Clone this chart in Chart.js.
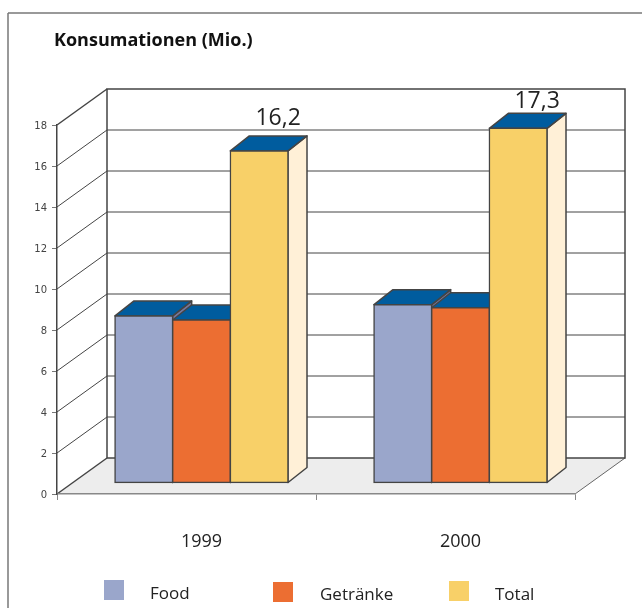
<!DOCTYPE html>
<html>
<head>
<meta charset="utf-8">
<title>Konsumationen</title>
<style>
	html, body { margin: 0; padding: 0; background: #fff; overflow: hidden; }
	canvas { display: block; }
</style>
<script src="https://cdn.jsdelivr.net/npm/chart.js@4/dist/chart.umd.min.js"></script>
</head>
<body>
<canvas id="MyChart" width="642" height="608"></canvas>
<script>
var categories = ["1999", "2000"];
var seriesNames = ["Food", "Getränke", "Total"];
var foodValues = [8.15, 8.7];
var drinkValues = [7.95, 8.55];
var totalValues = [16.2, 17.3];
var valueLabels = ["16,2", "17,3"];
var yMax = 18;
var yStep = 2;

var frontColors = ["#9aa6cb", "#ec6e32", "#f8d068"];
var sideColors = ["#77779c", "#b9532a", "#fff0d7"];
var topColor = "#005c9e";
var lineColor = "#444";
var font = '"Open Sans", "Noto Sans", sans-serif';

// room between front of the floor and back wall, and where the bars stand in it
var wallDx = 50, wallDy = -36;
var barDx = 15, barDy = -11;
var depthDx = 19, depthDy = -15;

function line(ctx, x1, y1, x2, y2, color, width) {
	ctx.beginPath();
	ctx.moveTo(x1, y1);
	ctx.lineTo(x2, y2);
	ctx.strokeStyle = color;
	ctx.lineWidth = width;
	ctx.stroke();
}

function poly(ctx, pts, fill, stroke, width) {
	ctx.beginPath();
	ctx.moveTo(pts[0][0], pts[0][1]);
	for (var i = 1; i < pts.length; i++) ctx.lineTo(pts[i][0], pts[i][1]);
	ctx.closePath();
	ctx.fillStyle = fill;
	ctx.fill();
	if (stroke) {
		ctx.strokeStyle = stroke;
		ctx.lineWidth = width;
		ctx.lineJoin = "round";
		ctx.stroke();
	}
}

var room3d = {
	id: "room3d",
	beforeDraw: function(chart) {
		var ctx = chart.ctx, x = chart.scales.x, y = chart.scales.y;
		var y0 = y.getPixelForValue(0), yTop = y.getPixelForValue(yMax);
		ctx.save();
		// outer frame, runs off the page right and bottom
		line(ctx, 8, 13, 642, 13, "#777", 1.5);
		line(ctx, 8, 13, 8, 608, "#777", 1.5);
		// floor
		poly(ctx, [[x.left, y0], [x.left + wallDx, y0 + wallDy], [x.right + wallDx, y0 + wallDy], [x.right, y0]], "#ededed");
		line(ctx, x.right, y0, x.right + wallDx, y0 + wallDy, "#666", 1);
		// grid on the left and back wall
		y.ticks.forEach(function(t) {
			var py = y.getPixelForValue(t.value);
			line(ctx, x.left, py, x.left + wallDx, py + wallDy, lineColor, t.value == 0 || t.value == yMax ? 1.5 : 1);
			if (t.value != 0 && t.value != yMax) line(ctx, x.left + wallDx, py + wallDy, x.right + wallDx, py + wallDy, lineColor, 1);
		});
		ctx.strokeStyle = lineColor;
		ctx.lineWidth = 1.5;
		ctx.strokeRect(x.left + wallDx, yTop + wallDy, x.width, y0 - yTop);
		ctx.restore();
	},
	// left to right so each bar covers the side of the one before it
	beforeDatasetsDraw: function(chart) {
		var ctx = chart.ctx;
		ctx.save();
		ctx.translate(barDx, barDy);
		chart.getSortedVisibleDatasetMetas().forEach(function(meta) {
			meta.data.forEach(function(bar) {
				var l = bar.x - bar.width / 2, r = bar.x + bar.width / 2;
				poly(ctx, [[r, bar.y], [r + depthDx, bar.y + depthDy], [r + depthDx, bar.base + depthDy], [r, bar.base]], sideColors[meta.index], lineColor, 1.5);
				poly(ctx, [[l, bar.y], [l + depthDx, bar.y + depthDy], [r + depthDx, bar.y + depthDy], [r, bar.y]], topColor, lineColor, 1.5);
			});
			meta.controller.draw();
		});
		ctx.restore();
		return false;
	},
	afterDraw: function(chart) {
		var ctx = chart.ctx;
		ctx.save();
		ctx.textAlign = "left";
		ctx.textBaseline = "alphabetic";
		ctx.fillStyle = "#111";
		ctx.font = "bold 18px " + font;
		ctx.fillText("Konsumationen (Mio.)", 54, 46);

		// value labels over the total bars
		var lift = [26, 20];
		ctx.textAlign = "center";
		ctx.fillStyle = "#222";
		ctx.font = "23px " + font;
		chart.getDatasetMeta(2).data.forEach(function(bar, i) {
			ctx.fillText(valueLabels[i], bar.x + barDx + depthDx, bar.y + barDy - lift[i]);
		});

		// legend
		var legendX = [104, 273, 449], legendY = [580, 582, 581], legendText = [150, 320, 495], legendBase = [599, 600, 600];
		ctx.textAlign = "left";
		ctx.font = "17px " + font;
		chart.data.datasets.forEach(function(ds, i) {
			ctx.fillStyle = ds.backgroundColor;
			ctx.fillRect(legendX[i], legendY[i], 20, 20);
			ctx.fillStyle = "#222";
			ctx.fillText(ds.label, legendText[i], legendBase[i]);
		});
		ctx.restore();
	}
};

function makeSet(i, values) {
	return {
		label: seriesNames[i],
		data: values,
		backgroundColor: frontColors[i],
		borderColor: lineColor,
		borderWidth: 1.5,
		borderSkipped: false,
		inflateAmount: 0.75,
		categoryPercentage: 0.668,
		barPercentage: 1
	};
}

var ctx = document.getElementById("MyChart").getContext("2d");
var chart = new Chart(ctx, {
	type: "bar",
	data: {
		labels: categories,
		datasets: [makeSet(0, foodValues), makeSet(1, drinkValues), makeSet(2, totalValues)]
	},
	options: {
		responsive: false,
		animation: false,
		layout: { padding: { top: 125, right: 67, left: 0, bottom: 0 } },
		plugins: { legend: { display: false }, title: { display: false }, tooltip: { enabled: false } },
		scales: {
			x: {
				afterFit: function(scale) { scale.height = 114; },
				grid: { drawOnChartArea: false, drawTicks: true, tickLength: 6, color: "#888" },
				border: { color: "#888", width: 1.5 },
				ticks: { color: "#222", font: { family: font, size: 18 }, padding: 31, labelOffset: 15, maxRotation: 0 }
			},
			y: {
				min: 0,
				max: yMax,
				afterFit: function(scale) { scale.width = 57; },
				grid: { drawOnChartArea: false, drawTicks: true, tickLength: 5, color: "#777" },
				border: { color: lineColor, width: 1.5 },
				ticks: { stepSize: yStep, color: "#444", font: { family: "DejaVu Sans", size: 10 }, padding: 5, labelOffset: 1 }
			}
		}
	},
	plugins: [room3d]
});
</script>
</body>
</html>
